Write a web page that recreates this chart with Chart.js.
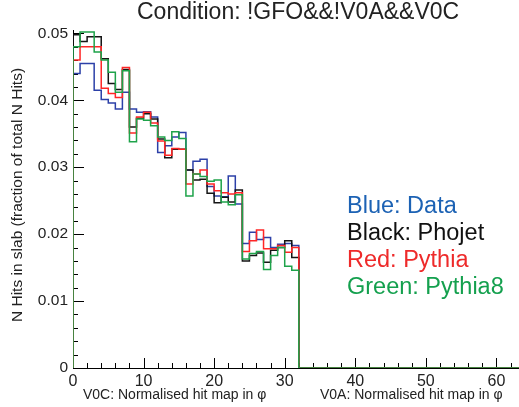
<!DOCTYPE html>
<html>
<head>
<meta charset="utf-8">
<script src="https://cdn.jsdelivr.net/npm/chart.js@4/dist/chart.umd.min.js"></script>
<style>
  body { margin: 0; background: #fff; }
  canvas { display: block; }
</style>
</head>
<body>
<canvas id="chart" width="519" height="407"></canvas>
<script>
// histogram contents, one value per bin (bin i spans i..i+1)
const bluData = [
  0.0440, 0.0455, 0.0455, 0.0415, 0.0401, 0.0396, 0.0387, 0.0412,
  0.0387, 0.0382, 0.0383, 0.0375, 0.0322, 0.0332, 0.0345, 0.0352,
  0.0296, 0.0309, 0.0312, 0.0271, 0.0257, 0.0256, 0.0287, 0.0245,
  0.0186, 0.0203, 0.0192, 0.0195, 0.0180, 0.0185, 0.0186, 0.0183,
  0, 0, 0, 0, 0, 0, 0, 0, 0, 0, 0, 0, 0, 0, 0, 0,
  0, 0, 0, 0, 0, 0, 0, 0, 0, 0, 0, 0, 0, 0, 0, 0
]
const phojet = [
  0.0498, 0.0488, 0.0495, 0.0495, 0.0462, 0.0425, 0.0416, 0.0446,
  0.0360, 0.0373, 0.0380, 0.0372, 0.0342, 0.0314, 0.0327, 0.0327,
  0.0296, 0.0281, 0.0282, 0.0261, 0.0247, 0.0255, 0.0248, 0.0266,
  0.0160, 0.0168, 0.0172, 0.0158, 0.0176, 0.0180, 0.0190, 0.0165,
  0, 0, 0, 0, 0, 0, 0, 0, 0, 0, 0, 0, 0, 0, 0, 0,
  0, 0, 0, 0, 0, 0, 0, 0, 0, 0, 0, 0, 0, 0, 0, 0
]
const pythia = [
  0.0460, 0.0480, 0.0480, 0.0480, 0.0418, 0.0410, 0.0404, 0.0449,
  0.0351, 0.0375, 0.0382, 0.0366, 0.0339, 0.0318, 0.0328, 0.0327,
  0.0275, 0.0290, 0.0296, 0.0275, 0.0265, 0.0262, 0.0260, 0.0262,
  0.0174, 0.0190, 0.0206, 0.0178, 0.0178, 0.0183, 0.0173, 0.0180,
  0, 0, 0, 0, 0, 0, 0, 0, 0, 0, 0, 0, 0, 0, 0, 0,
  0, 0, 0, 0, 0, 0, 0, 0, 0, 0, 0, 0, 0, 0, 0, 0
]
const pythia8 = [
  0.0480, 0.0502, 0.0502, 0.0472, 0.0460, 0.0442, 0.0412, 0.0444,
  0.0338, 0.0372, 0.0370, 0.0362, 0.0345, 0.0340, 0.0353, 0.0343,
  0.0257, 0.0290, 0.0286, 0.0279, 0.0281, 0.0248, 0.0244, 0.0259,
  0.0163, 0.0171, 0.0174, 0.0147, 0.0168, 0.0180, 0.0152, 0.0146,
  0, 0, 0, 0, 0, 0, 0, 0, 0, 0, 0, 0, 0, 0, 0, 0,
  0, 0, 0, 0, 0, 0, 0, 0, 0, 0, 0, 0, 0, 0, 0, 0
]

const yTicks = [0, 0.01, 0.02, 0.03, 0.04, 0.05]
const xTicks = [0, 10, 20, 30, 40, 50, 60]

const legendLines = [
  { text: 'Blue: Data', color: '#1c62b4' },
  { text: 'Black: Phojet', color: '#111111' },
  { text: 'Red: Pythia', color: '#ee2a2a' },
  { text: 'Green: Pythia8', color: '#14a04e' }
]

const FONT = '"Liberation Sans", Arial, sans-serif'

// bin contents -> step outline points (left edges + closing edge)
function toSteps(values) {
  const pts = [{ x: 0, y: 0 }]
  values.forEach((v, i) => pts.push({ x: i, y: v }))
  pts.push({ x: values.length, y: values[values.length - 1] })
  return pts
}

function histSet(values, color, order) {
  return {
    data: toSteps(values),
    borderColor: color,
    borderWidth: 1.5,
    stepped: true,
    pointRadius: 0,
    fill: false,
    order: order
  }
}

// axes and inward ticks, ROOT style
const axesPlugin = {
  id: 'axes',
  beforeDatasetsDraw(chart) {
    const { ctx, chartArea: a, scales: { x, y } } = chart
    ctx.save()
    ctx.strokeStyle = '#000'
    ctx.lineWidth = 1
    ctx.beginPath()
    ctx.moveTo(a.left + 0.5, a.top)
    ctx.lineTo(a.left + 0.5, a.bottom + 0.5)
    ctx.lineTo(a.right, a.bottom + 0.5)
    for (let v = 0; v <= 0.0505; v += 0.002) {
      const py = Math.round(y.getPixelForValue(v)) + 0.5
      const major = Math.abs(v / 0.01 - Math.round(v / 0.01)) < 1e-6
      ctx.moveTo(a.left, py)
      ctx.lineTo(a.left + (major ? 11 : 5), py)
    }
    for (let v = 0; v <= 63; v += 2) {
      const px = Math.round(x.getPixelForValue(v)) + 0.5
      ctx.moveTo(px, a.bottom)
      ctx.lineTo(px, a.bottom - (v % 10 === 0 ? 10 : 5))
    }
    ctx.stroke()
    ctx.restore()
  },
  afterDraw(chart) {
    const { ctx } = chart
    ctx.save()
    ctx.fillStyle = '#222'
    ctx.textBaseline = 'middle'
    ctx.font = '23px ' + FONT
    ctx.textAlign = 'left'
    ctx.fillText('Condition: !GFO&&!V0A&&V0C', 137, 13)

    ctx.font = '14px ' + FONT
    ctx.fillText('V0C: Normalised hit map in φ', 83, 395)
    ctx.fillText('V0A: Normalised hit map in φ', 320, 395)

    ctx.save()
    ctx.translate(18, 195)
    ctx.rotate(-Math.PI / 2)
    ctx.textAlign = 'center'
    ctx.font = '15.5px ' + FONT
    ctx.fillText('N Hits in slab (fraction of total N Hits)', 0, 0)
    ctx.restore()

    ctx.font = '23.5px ' + FONT
    legendLines.forEach((l, i) => {
      ctx.fillStyle = l.color
      ctx.fillText(l.text, 347, 207 + i * 26.8)
    })
    ctx.restore()
  }
}

const ctx = document.getElementById('chart').getContext('2d')
new Chart(ctx, {
  type: 'line',
  data: {
    datasets: [
      histSet(bluData, '#2c40a8', 3),
      histSet(phojet, '#151515', 2),
      histSet(pythia, '#ff2626', 1),
      histSet(pythia8, '#1ea34a', 0)
    ]
  },
  options: {
    responsive: false,
    animation: false,
    layout: { padding: { top: 30, right: 0, left: 0, bottom: 0 } },
    plugins: {
      legend: { display: false },
      tooltip: { enabled: false }
    },
    scales: {
      x: {
        type: 'linear',
        min: 0,
        max: 63.2,
        grid: { display: false, drawTicks: false },
        border: { display: false },
        ticks: {
          stepSize: 10,
          padding: 4,
          color: '#222',
          font: { family: FONT, size: 16 },
          maxRotation: 0
        },
        afterBuildTicks(scale) {
          scale.ticks = xTicks.map(v => ({ value: v }))
        },
        afterFit(scale) { scale.height = 39 }
      },
      y: {
        min: 0,
        max: 0.0505,
        grid: { display: false, drawTicks: false },
        border: { display: false },
        ticks: {
          padding: 5,
          color: '#222',
          font: { family: FONT, size: 15.5 },
          callback: v => v === 0 ? '0' : v.toFixed(2)
        },
        afterBuildTicks(scale) {
          scale.ticks = yTicks.map(v => ({ value: v }))
        },
        afterFit(scale) { scale.height = undefined; scale.width = 73 }
      }
    }
  },
  plugins: [axesPlugin]
})
</script>
</body>
</html>
